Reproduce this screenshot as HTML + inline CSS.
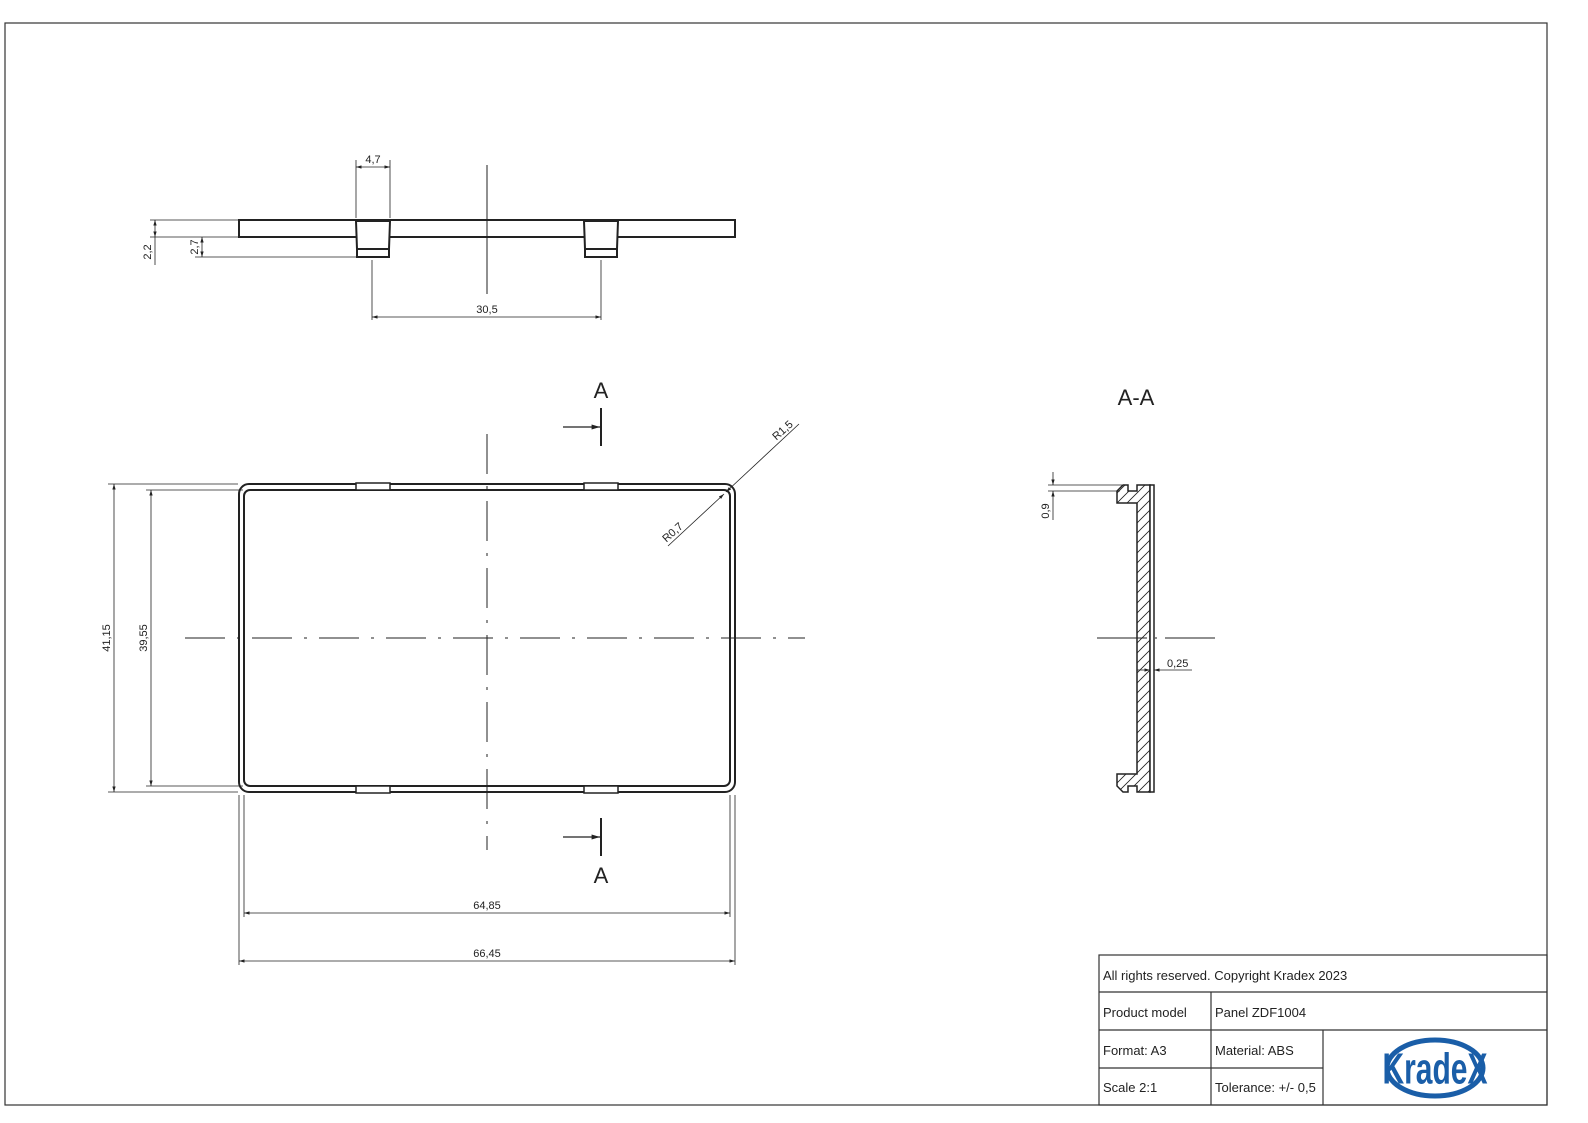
<!DOCTYPE html>
<html><head><style>html,body{margin:0;padding:0;background:#fff;overflow:hidden;width:100%;height:100%}svg{display:block;position:fixed;left:0;top:0;width:100vw;height:100vh}text{font-family:"Liberation Sans",sans-serif;fill:#222}</style></head><body>
<svg viewBox="0 0 1588 1123" preserveAspectRatio="none" xmlns="http://www.w3.org/2000/svg">
<defs>
<marker id="a" viewBox="0 0 10 10" refX="10" refY="5" markerWidth="7" markerHeight="7" orient="auto-start-reverse"><path d="M0,2 L10,5 L0,8z" fill="#222"/></marker>
<pattern id="h" width="10" height="10" patternUnits="userSpaceOnUse"><path d="M-2,12 L12,-2 M-2,2 L2,-2 M8,12 L12,8" stroke="#222" stroke-width="0.8"/></pattern>
</defs>
<rect x="5" y="23" width="1542" height="1082" fill="none" stroke="#333" stroke-width="1.2"/>
<g stroke="#222" fill="none">
<rect x="239" y="220" width="496" height="17" stroke-width="2"/>
<g stroke-width="2" fill="#fff">
<path d="M356,221 L390,221 L389,249 L357,249Z"/><rect x="357" y="249" width="32" height="8"/>
<path d="M584,221 L618,221 L617,249 L585,249Z"/><rect x="585" y="249" width="32" height="8"/>
</g>
<line x1="487" y1="165" x2="487" y2="294" stroke-width="1"/>
<g stroke-width="0.8">
<line x1="356" y1="160" x2="356" y2="218"/><line x1="390" y1="160" x2="390" y2="218"/>
<line x1="356" y1="167" x2="390" y2="167" marker-start="url(#a)" marker-end="url(#a)"/>
<line x1="150" y1="220" x2="238" y2="220"/><line x1="150" y1="237" x2="238" y2="237"/>
<line x1="155" y1="220" x2="155" y2="237" marker-start="url(#a)" marker-end="url(#a)"/>
<line x1="155" y1="237" x2="155" y2="265"/>
<line x1="195" y1="257" x2="356" y2="257"/>
<line x1="202" y1="237" x2="202" y2="257" marker-start="url(#a)" marker-end="url(#a)"/>
<line x1="372" y1="260" x2="372" y2="320"/><line x1="601" y1="260" x2="601" y2="320"/>
<line x1="372" y1="317" x2="601" y2="317" marker-start="url(#a)" marker-end="url(#a)"/>
</g>
<rect x="239" y="484" width="496" height="308" rx="10" stroke-width="2"/>
<rect x="244" y="490" width="486" height="296" rx="6" stroke-width="2"/>
<g stroke-width="1.5" fill="#fff">
<rect x="356" y="483" width="34" height="7"/><rect x="584" y="483" width="34" height="7"/>
<rect x="356" y="786" width="34" height="7"/><rect x="584" y="786" width="34" height="7"/>
</g>
<line x1="185" y1="638" x2="805" y2="638" stroke-width="1" stroke-dasharray="40,12,3,12"/>
<line x1="487" y1="434" x2="487" y2="850" stroke-width="1" stroke-dasharray="40,12,3,12"/>
<g stroke-width="0.8">
<line x1="108" y1="484" x2="238" y2="484"/><line x1="108" y1="792" x2="238" y2="792"/>
<line x1="114" y1="484" x2="114" y2="792" marker-start="url(#a)" marker-end="url(#a)"/>
<line x1="146" y1="490" x2="243" y2="490"/><line x1="146" y1="786" x2="243" y2="786"/>
<line x1="151" y1="490" x2="151" y2="786" marker-start="url(#a)" marker-end="url(#a)"/>
<line x1="239" y1="795" x2="239" y2="965"/><line x1="735" y1="795" x2="735" y2="965"/>
<line x1="239" y1="961" x2="735" y2="961" marker-start="url(#a)" marker-end="url(#a)"/>
<line x1="244" y1="795" x2="244" y2="917"/><line x1="730" y1="795" x2="730" y2="917"/>
<line x1="244" y1="913" x2="730" y2="913" marker-start="url(#a)" marker-end="url(#a)"/>
<line x1="799" y1="424" x2="726" y2="492" marker-end="url(#a)"/>
<line x1="668" y1="546" x2="724" y2="494" marker-end="url(#a)"/>
</g>
<line x1="601" y1="408" x2="601" y2="446" stroke-width="2"/>
<line x1="563" y1="427" x2="600" y2="427" stroke-width="1.2" marker-end="url(#a)"/>
<line x1="601" y1="818" x2="601" y2="856" stroke-width="2"/>
<line x1="563" y1="837" x2="600" y2="837" stroke-width="1.2" marker-end="url(#a)"/>
<path d="M1137,503 L1137,774 L1117,774 L1117,786 L1123,792 L1128,792 L1128,786 L1137,786 L1137,792 L1150,792 L1150,485 L1137,485 L1137,491 L1128,491 L1128,485 L1123,485 L1117,491 L1117,503Z" fill="url(#h)" stroke-width="1.5"/>
<rect x="1150" y="485" width="4" height="307" stroke-width="1.5" fill="#fff"/>
<line x1="1097" y1="638" x2="1218" y2="638" stroke-width="1" stroke-dasharray="50,8,2,8"/>
<g stroke-width="0.8">
<line x1="1048" y1="485" x2="1122" y2="485"/><line x1="1048" y1="491" x2="1120" y2="491"/>
<line x1="1053" y1="472" x2="1053" y2="485" marker-end="url(#a)"/>
<line x1="1053" y1="505" x2="1053" y2="491" marker-end="url(#a)"/>
<line x1="1053" y1="505" x2="1053" y2="520"/>
<line x1="1137" y1="670" x2="1150" y2="670" marker-end="url(#a)"/>
<line x1="1192" y1="670" x2="1154" y2="670" marker-end="url(#a)"/>
</g>
<g stroke="#333" stroke-width="1.2">
<rect x="1099" y="955" width="448" height="150"/>
<line x1="1099" y1="992" x2="1547" y2="992"/>
<line x1="1099" y1="1030" x2="1547" y2="1030"/>
<line x1="1099" y1="1068" x2="1323" y2="1068"/>
<line x1="1211" y1="992" x2="1211" y2="1105"/>
<line x1="1323" y1="1030" x2="1323" y2="1105"/>
</g>
</g>
<g font-size="11">
<text x="373" y="163" text-anchor="middle">4,7</text>
<text x="487" y="313" text-anchor="middle">30,5</text>
<text transform="translate(151,252) rotate(-90)" text-anchor="middle">2,2</text>
<text transform="translate(198,247) rotate(-90)" text-anchor="middle">2,7</text>
<text transform="translate(110,638) rotate(-90)" text-anchor="middle">41,15</text>
<text transform="translate(147,638) rotate(-90)" text-anchor="middle">39,55</text>
<text x="487" y="909" text-anchor="middle">64,85</text>
<text x="487" y="957" text-anchor="middle">66,45</text>
<text transform="translate(785,433) rotate(-42)" text-anchor="middle">R1,5</text>
<text transform="translate(675,535) rotate(-42)" text-anchor="middle">R0,7</text>
<text transform="translate(1049,511) rotate(-90)" text-anchor="middle">0,9</text>
<text x="1167" y="667">0,25</text>
</g>
<g font-size="22">
<text x="601" y="398" text-anchor="middle">A</text>
<text x="601" y="883" text-anchor="middle">A</text>
<text x="1136" y="405" text-anchor="middle">A-A</text>
</g>
<g font-size="13">
<text x="1103" y="980">All rights reserved. Copyright Kradex 2023</text>
<text x="1103" y="1017">Product model</text>
<text x="1215" y="1017">Panel ZDF1004</text>
<text x="1103" y="1055">Format: A3</text>
<text x="1215" y="1055">Material: ABS</text>
<text x="1103" y="1092">Scale 2:1</text>
<text x="1215" y="1092">Tolerance: +/- 0,5</text>
</g>
<ellipse cx="1435" cy="1068" rx="48" ry="28" fill="none" stroke="#1a5ea8" stroke-width="5"/>
<text x="1435" y="1083" font-size="40" font-weight="bold" text-anchor="middle" style="fill:#1a5ea8" transform="translate(1435,0) scale(0.75,1.1) translate(-1435,-98)">KradeX</text>
</svg>
</body></html>
